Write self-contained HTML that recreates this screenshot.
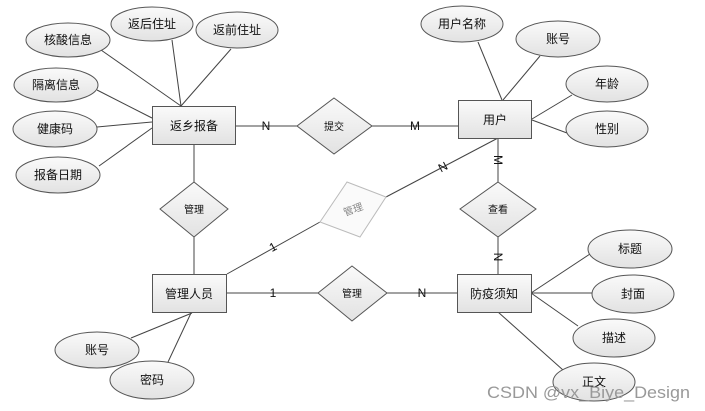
<!DOCTYPE html>
<html><head><meta charset="utf-8"><style>
html,body{margin:0;padding:0;background:#fff;width:705px;height:411px;overflow:hidden}
svg{display:block}
text{font-family:"Liberation Sans","Noto Sans CJK SC",sans-serif;font-size:12px;fill:#111}
</style></head><body>
<svg width="705" height="411" viewBox="0 0 705 411" xmlns="http://www.w3.org/2000/svg">
<defs>
<linearGradient id="g" x1="0" y1="0" x2="0" y2="1"><stop offset="0" stop-color="#fafafa"/><stop offset="1" stop-color="#e2e2e2"/></linearGradient>
</defs>
<g stroke="#444" stroke-width="1" fill="none">
<line x1="181" y1="106" x2="101" y2="50"/>
<line x1="181" y1="106" x2="172" y2="40"/>
<line x1="181" y1="106" x2="231" y2="49"/>
<line x1="152" y1="118" x2="97" y2="90"/>
<line x1="152" y1="122" x2="97" y2="127"/>
<line x1="152" y1="128" x2="99" y2="166"/>
<line x1="502" y1="100" x2="478" y2="42"/>
<line x1="503" y1="100" x2="540" y2="56"/>
<line x1="532" y1="119" x2="572" y2="95"/>
<line x1="532" y1="120" x2="567" y2="133"/>
<line x1="531" y1="293" x2="590" y2="254"/>
<line x1="531" y1="293" x2="592" y2="293"/>
<line x1="531" y1="293" x2="578" y2="326"/>
<line x1="498" y1="312" x2="563" y2="370"/>
<line x1="192" y1="313" x2="131" y2="338"/>
<line x1="191" y1="313" x2="168" y2="362"/>
<line x1="236" y1="126" x2="297" y2="126"/>
<line x1="372" y1="126" x2="458" y2="126"/>
<line x1="194" y1="144" x2="194" y2="182"/>
<line x1="194" y1="237" x2="194" y2="275"/>
<line x1="498" y1="138" x2="498" y2="182"/>
<line x1="498" y1="237" x2="498" y2="274"/>
<line x1="227" y1="293" x2="318" y2="293"/>
<line x1="387" y1="293" x2="457" y2="293"/>
<line x1="227" y1="274" x2="320" y2="222"/>
<line x1="386" y1="197" x2="498" y2="138"/>
</g>
<g stroke="#555" fill="url(#g)">
<ellipse cx="68" cy="40" rx="42" ry="17"/>
<ellipse cx="152" cy="24" rx="41" ry="17"/>
<ellipse cx="237" cy="30" rx="41" ry="18"/>
<ellipse cx="56" cy="85" rx="42" ry="17"/>
<ellipse cx="55" cy="129" rx="42" ry="18"/>
<ellipse cx="58" cy="175" rx="42" ry="18"/>
<ellipse cx="462" cy="24" rx="41" ry="18"/>
<ellipse cx="558" cy="39" rx="42" ry="18"/>
<ellipse cx="607" cy="84" rx="41" ry="18"/>
<ellipse cx="607" cy="129" rx="41" ry="18"/>
<ellipse cx="630" cy="249" rx="42" ry="19"/>
<ellipse cx="633" cy="294" rx="41" ry="19"/>
<ellipse cx="614" cy="338" rx="41" ry="19"/>
<ellipse cx="594" cy="382" rx="41" ry="19"/>
<ellipse cx="97" cy="350" rx="42" ry="18"/>
<ellipse cx="152" cy="380" rx="42" ry="19"/>
<rect x="152.5" y="106.5" width="83" height="38"/>
<rect x="458.5" y="100.5" width="73" height="38"/>
<rect x="152.5" y="274.5" width="74" height="38"/>
<rect x="457.5" y="274.5" width="74" height="38"/>
<polygon points="334,98 372,126 334,154 297,126"/>
<polygon points="194,182 228,209 194,237 160,209"/>
<polygon points="498,182 536,209 498,237 460,209"/>
<polygon points="352,266 387,293 352,321 318,293"/>
</g>
<polygon points="347,182 386,197 360,237 320,222" stroke="#bbb" fill="#fafafa"/>
<g text-anchor="middle">
<text x="68" y="44">核酸信息</text>
<text x="152" y="28">返后住址</text>
<text x="237" y="34">返前住址</text>
<text x="56" y="89">隔离信息</text>
<text x="55" y="133">健康码</text>
<text x="58" y="179">报备日期</text>
<text x="462" y="28">用户名称</text>
<text x="558" y="43">账号</text>
<text x="607" y="88">年龄</text>
<text x="607" y="133">性别</text>
<text x="630" y="253">标题</text>
<text x="633" y="298">封面</text>
<text x="614" y="342">描述</text>
<text x="594" y="386">正文</text>
<text x="97" y="354">账号</text>
<text x="152" y="384">密码</text>
<text x="194" y="130">返乡报备</text>
<text x="495" y="124">用户</text>
<text x="189" y="298">管理人员</text>
<text x="494" y="298">防疫须知</text>
<text x="334" y="130" style="font-size:10px">提交</text>
<text x="194" y="213" style="font-size:10px">管理</text>
<text x="498" y="213" style="font-size:10px">查看</text>
<text x="352" y="297" style="font-size:10px">管理</text>
<text x="353" y="213" style="font-size:10px;fill:#888" transform="rotate(-20 353 209)">管理</text>
<g style="font-size:11px">
<text x="266" y="130">N</text>
<text x="415" y="130">M</text>
<text x="273" y="297">1</text>
<text x="422" y="297">N</text>
<text x="273" y="251" transform="rotate(-28 273 247)">1</text>
<text x="443" y="171" transform="rotate(-28 443 167)">N</text>
<text x="498" y="164" transform="rotate(90 498 160)">M</text>
<text x="498" y="261" transform="rotate(90 498 257)">N</text>
</g>
</g>
<text x="487" y="398" textLength="203" lengthAdjust="spacingAndGlyphs" style="font-size:17px;fill:#999">CSDN @vx_Biye_Design</text>
</svg>
</body></html>
